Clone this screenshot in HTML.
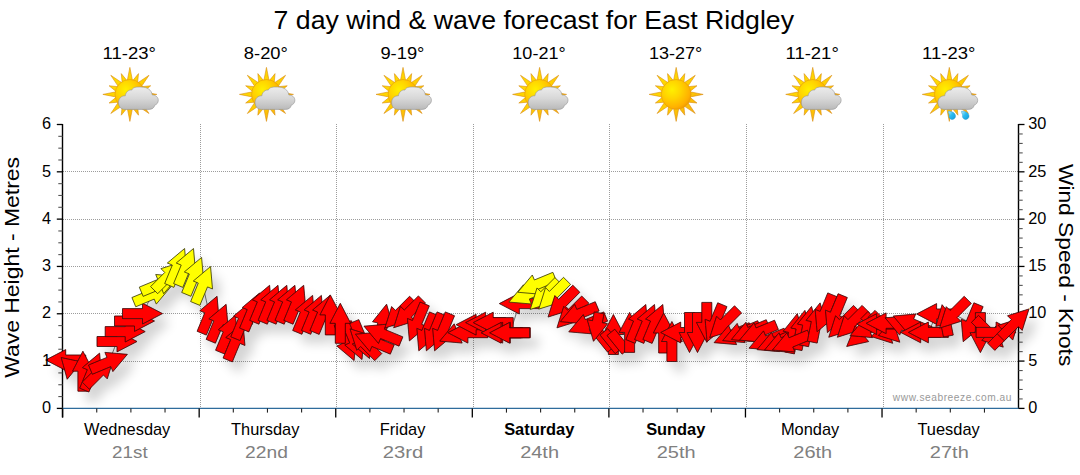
<!DOCTYPE html>
<html><head><meta charset="utf-8"><title>7 day wind &amp; wave forecast</title>
<style>
html,body{margin:0;padding:0;background:#fff;}
body{width:1080px;height:475px;overflow:hidden;position:relative;font-family:"Liberation Sans",sans-serif;}
svg{position:absolute;left:0;top:0;display:block;}
text{font-family:"Liberation Sans",sans-serif;}
</style></head><body>
<svg width="1080" height="475" viewBox="0 0 1080 475">
<defs>
<filter id="sh" x="-5%" y="-20%" width="110%" height="150%">
<feGaussianBlur in="SourceAlpha" stdDeviation="5.5"/>
<feOffset dx="8" dy="10" result="o"/>
<feComponentTransfer><feFuncA type="linear" slope="0.17"/></feComponentTransfer>
<feMerge><feMergeNode/><feMergeNode in="SourceGraphic"/></feMerge>
</filter>
<radialGradient id="sung" cx="0.36" cy="0.34" r="0.75">
<stop offset="0" stop-color="#fff000"/><stop offset="0.4" stop-color="#ffd400"/><stop offset="0.8" stop-color="#ffb000"/><stop offset="1" stop-color="#f09400"/>
</radialGradient>
<linearGradient id="rayg" x1="0" y1="0" x2="1" y2="1">
<stop offset="0" stop-color="#ffe400"/><stop offset="0.55" stop-color="#ffcc00"/><stop offset="1" stop-color="#f4a018"/>
</linearGradient>
<linearGradient id="cldg" x1="0" y1="0" x2="0" y2="1">
<stop offset="0" stop-color="#ececec"/><stop offset="0.5" stop-color="#d8d8d8"/><stop offset="1" stop-color="#bababa"/>
</linearGradient>
<linearGradient id="dropg" x1="0" y1="0" x2="1" y2="1">
<stop offset="0" stop-color="#b8ecff"/><stop offset="0.45" stop-color="#2cbcf0"/><stop offset="1" stop-color="#149ad8"/>
</linearGradient>
<g id="sun"><path d="M-2.59,-13.96 L0,-27 L2.59,-13.96 L2.95,-13.89 L8.61,-20.79 L7.73,-11.91 L8.04,-11.7 L19.09,-19.09 L11.7,-8.04 L11.91,-7.73 L20.79,-8.61 L13.89,-2.95 L13.96,-2.59 L27,0 L13.96,2.59 L13.89,2.95 L20.79,8.61 L11.91,7.73 L11.7,8.04 L19.09,19.09 L8.04,11.7 L7.73,11.91 L8.61,20.79 L2.95,13.89 L2.59,13.96 L0,27 L-2.59,13.96 L-2.95,13.89 L-8.61,20.79 L-7.73,11.91 L-8.04,11.7 L-19.09,19.09 L-11.7,8.04 L-11.91,7.73 L-20.79,8.61 L-13.89,2.95 L-13.96,2.59 L-27,0 L-13.96,-2.59 L-13.89,-2.95 L-20.79,-8.61 L-11.91,-7.73 L-11.7,-8.04 L-19.09,-19.09 L-8.04,-11.7 L-7.73,-11.91 L-8.61,-20.79 L-2.95,-13.89Z" fill="url(#rayg)" stroke="#d88c10" stroke-width="0.6" stroke-linejoin="miter"/><circle cx="0" cy="0" r="14.9" fill="url(#sung)" stroke="#e39a10" stroke-width="0.6"/></g>
<g id="cloud"><path d="M-4.8,15 C-9.5,15 -11.4,11.5 -11.4,8.2 C-11.4,4.2 -8.6,1.2 -4.6,1.4 C-4.2,-2.2 -1.2,-4.9 1.8,-4.3 C3.2,-7.6 7,-7.4 11,-7.4 C17.5,-7.4 21.6,-4.6 22.4,0.6 C26,0.6 28.4,3 28.4,5.8 C28.4,8.4 26.8,10.2 24.8,10.8 C24.4,13.6 22,15 19,15 Z" fill="url(#cldg)" stroke="#949494" stroke-width="0.6"/></g>
</defs>
<g stroke="#9c9c9c" stroke-width="1" stroke-dasharray="1,1" shape-rendering="crispEdges"><line x1="63" y1="361.5" x2="1018" y2="361.5"/><line x1="63" y1="313.5" x2="1018" y2="313.5"/><line x1="63" y1="266.5" x2="1018" y2="266.5"/><line x1="63" y1="219.5" x2="1018" y2="219.5"/><line x1="63" y1="171.5" x2="1018" y2="171.5"/><line x1="200.5" y1="124" x2="200.5" y2="408"/><line x1="336.5" y1="124" x2="336.5" y2="408"/><line x1="473.5" y1="124" x2="473.5" y2="408"/><line x1="609.5" y1="124" x2="609.5" y2="408"/><line x1="746.5" y1="124" x2="746.5" y2="408"/><line x1="883.5" y1="124" x2="883.5" y2="408"/></g>
<g><line x1="62.5" y1="124" x2="62.5" y2="417.5" stroke="#000" stroke-width="1.4"/><line x1="1018.5" y1="124" x2="1018.5" y2="409" stroke="#000" stroke-width="1.4"/><line x1="62" y1="408.4" x2="1019" y2="408.4" stroke="#2e6c9c" stroke-width="1.2"/><line x1="56.8" y1="408.4" x2="62.5" y2="408.4" stroke="#000" stroke-width="1.3"/><line x1="58.3" y1="396.57" x2="62.5" y2="396.57" stroke="#555" stroke-width="1.1"/><line x1="58.3" y1="384.74" x2="62.5" y2="384.74" stroke="#555" stroke-width="1.1"/><line x1="58.3" y1="372.91" x2="62.5" y2="372.91" stroke="#555" stroke-width="1.1"/><line x1="56.8" y1="361.08" x2="62.5" y2="361.08" stroke="#000" stroke-width="1.3"/><line x1="58.3" y1="349.25" x2="62.5" y2="349.25" stroke="#555" stroke-width="1.1"/><line x1="58.3" y1="337.42" x2="62.5" y2="337.42" stroke="#555" stroke-width="1.1"/><line x1="58.3" y1="325.6" x2="62.5" y2="325.6" stroke="#555" stroke-width="1.1"/><line x1="56.8" y1="313.77" x2="62.5" y2="313.77" stroke="#000" stroke-width="1.3"/><line x1="58.3" y1="301.94" x2="62.5" y2="301.94" stroke="#555" stroke-width="1.1"/><line x1="58.3" y1="290.11" x2="62.5" y2="290.11" stroke="#555" stroke-width="1.1"/><line x1="58.3" y1="278.28" x2="62.5" y2="278.28" stroke="#555" stroke-width="1.1"/><line x1="56.8" y1="266.45" x2="62.5" y2="266.45" stroke="#000" stroke-width="1.3"/><line x1="58.3" y1="254.62" x2="62.5" y2="254.62" stroke="#555" stroke-width="1.1"/><line x1="58.3" y1="242.79" x2="62.5" y2="242.79" stroke="#555" stroke-width="1.1"/><line x1="58.3" y1="230.96" x2="62.5" y2="230.96" stroke="#555" stroke-width="1.1"/><line x1="56.8" y1="219.13" x2="62.5" y2="219.13" stroke="#000" stroke-width="1.3"/><line x1="58.3" y1="207.3" x2="62.5" y2="207.3" stroke="#555" stroke-width="1.1"/><line x1="58.3" y1="195.47" x2="62.5" y2="195.47" stroke="#555" stroke-width="1.1"/><line x1="58.3" y1="183.65" x2="62.5" y2="183.65" stroke="#555" stroke-width="1.1"/><line x1="56.8" y1="171.82" x2="62.5" y2="171.82" stroke="#000" stroke-width="1.3"/><line x1="58.3" y1="159.99" x2="62.5" y2="159.99" stroke="#555" stroke-width="1.1"/><line x1="58.3" y1="148.16" x2="62.5" y2="148.16" stroke="#555" stroke-width="1.1"/><line x1="58.3" y1="136.33" x2="62.5" y2="136.33" stroke="#555" stroke-width="1.1"/><line x1="56.8" y1="124.5" x2="62.5" y2="124.5" stroke="#000" stroke-width="1.3"/><line x1="1018.5" y1="408.4" x2="1024.5" y2="408.4" stroke="#000" stroke-width="1.3"/><line x1="1018.5" y1="398.94" x2="1022.7" y2="398.94" stroke="#555" stroke-width="1.1"/><line x1="1018.5" y1="389.47" x2="1022.7" y2="389.47" stroke="#555" stroke-width="1.1"/><line x1="1018.5" y1="380.01" x2="1022.7" y2="380.01" stroke="#555" stroke-width="1.1"/><line x1="1018.5" y1="370.55" x2="1022.7" y2="370.55" stroke="#555" stroke-width="1.1"/><line x1="1018.5" y1="361.08" x2="1024.5" y2="361.08" stroke="#000" stroke-width="1.3"/><line x1="1018.5" y1="351.62" x2="1022.7" y2="351.62" stroke="#555" stroke-width="1.1"/><line x1="1018.5" y1="342.16" x2="1022.7" y2="342.16" stroke="#555" stroke-width="1.1"/><line x1="1018.5" y1="332.69" x2="1022.7" y2="332.69" stroke="#555" stroke-width="1.1"/><line x1="1018.5" y1="323.23" x2="1022.7" y2="323.23" stroke="#555" stroke-width="1.1"/><line x1="1018.5" y1="313.77" x2="1024.5" y2="313.77" stroke="#000" stroke-width="1.3"/><line x1="1018.5" y1="304.3" x2="1022.7" y2="304.3" stroke="#555" stroke-width="1.1"/><line x1="1018.5" y1="294.84" x2="1022.7" y2="294.84" stroke="#555" stroke-width="1.1"/><line x1="1018.5" y1="285.38" x2="1022.7" y2="285.38" stroke="#555" stroke-width="1.1"/><line x1="1018.5" y1="275.91" x2="1022.7" y2="275.91" stroke="#555" stroke-width="1.1"/><line x1="1018.5" y1="266.45" x2="1024.5" y2="266.45" stroke="#000" stroke-width="1.3"/><line x1="1018.5" y1="256.99" x2="1022.7" y2="256.99" stroke="#555" stroke-width="1.1"/><line x1="1018.5" y1="247.52" x2="1022.7" y2="247.52" stroke="#555" stroke-width="1.1"/><line x1="1018.5" y1="238.06" x2="1022.7" y2="238.06" stroke="#555" stroke-width="1.1"/><line x1="1018.5" y1="228.6" x2="1022.7" y2="228.6" stroke="#555" stroke-width="1.1"/><line x1="1018.5" y1="219.13" x2="1024.5" y2="219.13" stroke="#000" stroke-width="1.3"/><line x1="1018.5" y1="209.67" x2="1022.7" y2="209.67" stroke="#555" stroke-width="1.1"/><line x1="1018.5" y1="200.21" x2="1022.7" y2="200.21" stroke="#555" stroke-width="1.1"/><line x1="1018.5" y1="190.74" x2="1022.7" y2="190.74" stroke="#555" stroke-width="1.1"/><line x1="1018.5" y1="181.28" x2="1022.7" y2="181.28" stroke="#555" stroke-width="1.1"/><line x1="1018.5" y1="171.82" x2="1024.5" y2="171.82" stroke="#000" stroke-width="1.3"/><line x1="1018.5" y1="162.35" x2="1022.7" y2="162.35" stroke="#555" stroke-width="1.1"/><line x1="1018.5" y1="152.89" x2="1022.7" y2="152.89" stroke="#555" stroke-width="1.1"/><line x1="1018.5" y1="143.43" x2="1022.7" y2="143.43" stroke="#555" stroke-width="1.1"/><line x1="1018.5" y1="133.96" x2="1022.7" y2="133.96" stroke="#555" stroke-width="1.1"/><line x1="1018.5" y1="124.5" x2="1024.5" y2="124.5" stroke="#000" stroke-width="1.3"/><line x1="62.6" y1="408.4" x2="62.6" y2="417.5" stroke="#000" stroke-width="1.3"/><line x1="96.74" y1="408.4" x2="96.74" y2="412.6" stroke="#222" stroke-width="1.1"/><line x1="130.89" y1="408.4" x2="130.89" y2="412.6" stroke="#222" stroke-width="1.1"/><line x1="165.03" y1="408.4" x2="165.03" y2="412.6" stroke="#222" stroke-width="1.1"/><line x1="199.17" y1="408.4" x2="199.17" y2="417.5" stroke="#000" stroke-width="1.3"/><line x1="233.31" y1="408.4" x2="233.31" y2="412.6" stroke="#222" stroke-width="1.1"/><line x1="267.46" y1="408.4" x2="267.46" y2="412.6" stroke="#222" stroke-width="1.1"/><line x1="301.6" y1="408.4" x2="301.6" y2="412.6" stroke="#222" stroke-width="1.1"/><line x1="335.74" y1="408.4" x2="335.74" y2="417.5" stroke="#000" stroke-width="1.3"/><line x1="369.89" y1="408.4" x2="369.89" y2="412.6" stroke="#222" stroke-width="1.1"/><line x1="404.03" y1="408.4" x2="404.03" y2="412.6" stroke="#222" stroke-width="1.1"/><line x1="438.17" y1="408.4" x2="438.17" y2="412.6" stroke="#222" stroke-width="1.1"/><line x1="472.31" y1="408.4" x2="472.31" y2="417.5" stroke="#000" stroke-width="1.3"/><line x1="506.46" y1="408.4" x2="506.46" y2="412.6" stroke="#222" stroke-width="1.1"/><line x1="540.6" y1="408.4" x2="540.6" y2="412.6" stroke="#222" stroke-width="1.1"/><line x1="574.74" y1="408.4" x2="574.74" y2="412.6" stroke="#222" stroke-width="1.1"/><line x1="608.89" y1="408.4" x2="608.89" y2="417.5" stroke="#000" stroke-width="1.3"/><line x1="643.03" y1="408.4" x2="643.03" y2="412.6" stroke="#222" stroke-width="1.1"/><line x1="677.17" y1="408.4" x2="677.17" y2="412.6" stroke="#222" stroke-width="1.1"/><line x1="711.31" y1="408.4" x2="711.31" y2="412.6" stroke="#222" stroke-width="1.1"/><line x1="745.46" y1="408.4" x2="745.46" y2="417.5" stroke="#000" stroke-width="1.3"/><line x1="779.6" y1="408.4" x2="779.6" y2="412.6" stroke="#222" stroke-width="1.1"/><line x1="813.74" y1="408.4" x2="813.74" y2="412.6" stroke="#222" stroke-width="1.1"/><line x1="847.89" y1="408.4" x2="847.89" y2="412.6" stroke="#222" stroke-width="1.1"/><line x1="882.03" y1="408.4" x2="882.03" y2="417.5" stroke="#000" stroke-width="1.3"/><line x1="916.17" y1="408.4" x2="916.17" y2="412.6" stroke="#222" stroke-width="1.1"/><line x1="950.31" y1="408.4" x2="950.31" y2="412.6" stroke="#222" stroke-width="1.1"/><line x1="984.46" y1="408.4" x2="984.46" y2="412.6" stroke="#222" stroke-width="1.1"/></g>
<polyline points="65.7,360 71.35,359.7 82.9,371.2 91.95,371.6 99.9,371.5 108.9,362 117,341.5 125.2,331.6 134.5,321 142.5,313.6 152.3,294.5 159.7,284.1 168.3,276 176.95,267 185.85,267 193.95,275.9 202.9,285 209.4,314.7 218.45,322.8 227.85,333.7 235.35,341.5 243.05,320.2 251.85,311.5 261.95,303.8 270.35,303.8 279.15,303.8 287.25,303.8 296.05,303.8 304.95,313.9 313.75,313.9 322.2,314 330.3,314.9 340.3,323.3 346.45,342.02 354.35,341.02 361.85,340.02 364.14,342.94 373.78,341.85 382.48,333.85 399,313.9 407.8,313.6 417.05,322.42 426.45,332.32 434.05,332.32 442.25,332.32 458.18,333.45 467.9,332.7 476.1,324.7 485.6,322.6 493.2,322.6 501.1,332.8 502.7,332.7 509.6,332.8 510.3,332.7 519.3,303.6 527.4,294.4 536.3,284.6 544.35,295.3 552.9,295 562.2,302.9 571.1,313.7 578.7,314 587.25,324.2 597.4,321.7 613.4,334.5 629.6,332.4 638.15,323 646.85,323 655.15,323 663.7,333 671.9,341.5 680.7,332.5 689.5,332.5 697.5,332.5 706.8,322.4 714.7,323.2 723.9,323.5 732.6,335 741.15,333 749.7,332 758,332.5 767.5,340.5 775.5,342 783,342.4 790.9,342.4 793.4,333.3 801,330 807.6,326.1 816.2,322.5 824.75,313.3 835.05,314.1 842.9,323.1 851.5,323.1 862,333.6 868.5,328 876.6,324.1 886.1,323.3 903.6,325.5 911.7,323.65 920.7,332.4 928.4,332.4 936.6,314 946,324.3 953.6,314 970.85,323.2 980.4,332.6 989.1,333 996.1,332.4 1005.4,332.7 1014.85,323.1" fill="none" stroke="#777" stroke-width="1"/>
<g filter="url(#sh)" stroke-width="0.85" stroke-linejoin="miter"><polygon points="85.7,365 65.7,365 65.7,370.4 45.7,360 65.7,349.6 65.7,355 85.7,355" fill="#ff0000" stroke="#3c0a0a"/><polygon points="81.52,361.86 67.19,379.26 61.18,357.54" fill="#ff0000" stroke="#3c0a0a"/><polygon points="77.9,391.2 77.9,371.2 72.5,371.2 82.9,351.2 93.3,371.2 87.9,371.2 87.9,391.2" fill="#ff0000" stroke="#3c0a0a"/><polygon points="79.68,388.16 87.33,369.69 82.34,367.62 99.6,353.12 101.56,375.58 96.57,373.51 88.92,391.99" fill="#ff0000" stroke="#3c0a0a"/><polygon points="82.22,382.11 96.36,367.96 92.55,364.15 114.04,357.36 107.25,378.85 103.44,375.04 89.29,389.18" fill="#ff0000" stroke="#3c0a0a"/><polygon points="88.51,365.03 106.99,357.38 104.92,352.39 127.38,354.35 112.88,371.61 110.81,366.62 92.34,374.27" fill="#ff0000" stroke="#3c0a0a"/><polygon points="97,336.5 117,336.5 117,331.1 137,341.5 117,351.9 117,346.5 97,346.5" fill="#ff0000" stroke="#3c0a0a"/><polygon points="105.2,326.6 125.2,326.6 125.2,321.2 145.2,331.6 125.2,342 125.2,336.6 105.2,336.6" fill="#ff0000" stroke="#3c0a0a"/><polygon points="114.5,316 134.5,316 134.5,310.6 154.5,321 134.5,331.4 134.5,326 114.5,326" fill="#ff0000" stroke="#3c0a0a"/><polygon points="122.5,308.6 142.5,308.6 142.5,303.2 162.5,313.6 142.5,324 142.5,318.6 122.5,318.6" fill="#ff0000" stroke="#3c0a0a"/><polygon points="131.91,297.53 150.39,289.88 148.32,284.89 170.78,286.85 156.28,304.11 154.21,299.12 135.74,306.77" fill="#ffff00" stroke="#3c3c0a"/><polygon points="139.31,287.13 157.79,279.48 155.72,274.49 178.18,276.45 163.68,293.71 161.61,288.72 143.14,296.37" fill="#ffff00" stroke="#3c3c0a"/><polygon points="150.62,286.61 164.76,272.46 160.95,268.65 182.44,261.86 175.65,283.35 171.84,279.54 157.69,293.68" fill="#ffff00" stroke="#3c3c0a"/><polygon points="164.68,283.56 172.33,265.09 167.34,263.02 184.6,248.52 186.56,270.98 181.57,268.91 173.92,287.39" fill="#ffff00" stroke="#3c3c0a"/><polygon points="173.58,283.56 181.23,265.09 176.24,263.02 193.5,248.52 195.46,270.98 190.47,268.91 182.82,287.39" fill="#ffff00" stroke="#3c3c0a"/><polygon points="181.68,292.46 189.33,273.99 184.34,271.92 201.6,257.42 203.56,279.88 198.57,277.81 190.92,296.29" fill="#ffff00" stroke="#3c3c0a"/><polygon points="190.63,301.56 198.28,283.09 193.29,281.02 210.55,266.52 212.51,288.98 207.52,286.91 199.87,305.39" fill="#ffff00" stroke="#3c3c0a"/><polygon points="197.13,331.26 204.78,312.79 199.79,310.72 217.05,296.22 219.01,318.68 214.02,316.61 206.37,335.09" fill="#ff0000" stroke="#3c0a0a"/><polygon points="206.18,339.36 213.83,320.89 208.84,318.82 226.1,304.32 228.06,326.78 223.07,324.71 215.42,343.19" fill="#ff0000" stroke="#3c0a0a"/><polygon points="215.58,350.26 223.23,331.79 218.24,329.72 235.5,315.22 237.46,337.68 232.47,335.61 224.82,354.09" fill="#ff0000" stroke="#3c0a0a"/><polygon points="223.08,358.06 230.73,339.59 225.74,337.52 243,323.02 244.96,345.48 239.97,343.41 232.32,361.89" fill="#ff0000" stroke="#3c0a0a"/><polygon points="230.78,336.76 238.43,318.29 233.44,316.22 250.7,301.72 252.66,324.18 247.67,322.11 240.02,340.59" fill="#ff0000" stroke="#3c0a0a"/><polygon points="239.58,328.06 247.23,309.59 242.24,307.52 259.5,293.02 261.46,315.48 256.47,313.41 248.82,331.89" fill="#ff0000" stroke="#3c0a0a"/><polygon points="249.68,320.36 257.33,301.89 252.34,299.82 269.6,285.32 271.56,307.78 266.57,305.71 258.92,324.19" fill="#ff0000" stroke="#3c0a0a"/><polygon points="258.08,320.36 265.73,301.89 260.74,299.82 278,285.32 279.96,307.78 274.97,305.71 267.32,324.19" fill="#ff0000" stroke="#3c0a0a"/><polygon points="266.88,320.36 274.53,301.89 269.54,299.82 286.8,285.32 288.76,307.78 283.77,305.71 276.12,324.19" fill="#ff0000" stroke="#3c0a0a"/><polygon points="274.98,320.36 282.63,301.89 277.64,299.82 294.9,285.32 296.86,307.78 291.87,305.71 284.22,324.19" fill="#ff0000" stroke="#3c0a0a"/><polygon points="283.78,320.36 291.43,301.89 286.44,299.82 303.7,285.32 305.66,307.78 300.67,305.71 293.02,324.19" fill="#ff0000" stroke="#3c0a0a"/><polygon points="292.68,330.46 300.33,311.99 295.34,309.92 312.6,295.42 314.56,317.88 309.57,315.81 301.92,334.29" fill="#ff0000" stroke="#3c0a0a"/><polygon points="301.48,330.46 309.13,311.99 304.14,309.92 321.4,295.42 323.36,317.88 318.37,315.81 310.72,334.29" fill="#ff0000" stroke="#3c0a0a"/><polygon points="309.93,330.56 317.58,312.09 312.59,310.02 329.85,295.52 331.81,317.98 326.82,315.91 319.17,334.39" fill="#ff0000" stroke="#3c0a0a"/><polygon points="325.3,334.9 325.3,314.9 319.9,314.9 330.3,294.9 340.7,314.9 335.3,314.9 335.3,334.9" fill="#ff0000" stroke="#3c0a0a"/><polygon points="343.41,321.63 351.07,340.11 356.05,338.04 354.1,360.5 336.84,346 341.83,343.94 334.17,325.46" fill="#ff0000" stroke="#3c0a0a"/><polygon points="351.31,320.63 358.97,339.11 363.95,337.04 362,359.5 344.74,345 349.73,342.94 342.07,324.46" fill="#ff0000" stroke="#3c0a0a"/><polygon points="358.81,319.63 366.47,338.11 371.45,336.04 369.5,358.5 352.24,344 357.23,341.94 349.57,323.46" fill="#ff0000" stroke="#3c0a0a"/><polygon points="335.3,343.3 335.3,323.3 329.9,323.3 340.3,303.3 350.7,323.3 345.3,323.3 345.3,343.3" fill="#ff0000" stroke="#3c0a0a"/><polygon points="373.89,342.46 377.79,322.84 372.5,321.79 386.6,304.2 392.9,325.84 387.6,324.79 383.7,344.41" fill="#ff0000" stroke="#3c0a0a"/><polygon points="374.75,360.62 360.61,346.48 356.79,350.3 350,328.8 371.5,335.59 367.68,339.41 381.82,353.55" fill="#ff0000" stroke="#3c0a0a"/><polygon points="390.34,354.13 371.86,346.47 369.8,351.46 355.3,334.2 377.76,332.25 375.69,337.23 394.17,344.89" fill="#ff0000" stroke="#3c0a0a"/><polygon points="399.04,346.13 380.56,338.47 378.5,343.46 364,326.2 386.46,324.25 384.39,329.23 402.87,336.89" fill="#ff0000" stroke="#3c0a0a"/><polygon points="416.68,303.29 402.54,317.44 406.35,321.25 384.86,328.04 391.65,306.55 395.46,310.36 409.61,296.22" fill="#ff0000" stroke="#3c0a0a"/><polygon points="425.48,302.99 411.34,317.14 415.15,320.95 393.66,327.74 400.45,306.25 404.26,310.06 418.41,295.92" fill="#ff0000" stroke="#3c0a0a"/><polygon points="429.33,305.86 421.67,324.34 426.66,326.4 409.4,340.9 407.45,318.44 412.43,320.51 420.09,302.03" fill="#ff0000" stroke="#3c0a0a"/><polygon points="438.73,315.76 431.07,334.24 436.06,336.3 418.8,350.8 416.85,328.34 421.83,330.41 429.49,311.93" fill="#ff0000" stroke="#3c0a0a"/><polygon points="446.33,315.76 438.67,334.24 443.66,336.3 426.4,350.8 424.45,328.34 429.43,330.41 437.09,311.93" fill="#ff0000" stroke="#3c0a0a"/><polygon points="454.53,315.76 446.87,334.24 451.86,336.3 434.6,350.8 432.65,328.34 437.63,330.41 445.29,311.93" fill="#ff0000" stroke="#3c0a0a"/><polygon points="478.57,330.41 460.09,338.07 462.16,343.05 439.7,341.1 454.2,323.84 456.26,328.83 474.74,321.17" fill="#ff0000" stroke="#3c0a0a"/><polygon points="487.9,337.7 467.9,337.7 467.9,343.1 447.9,332.7 467.9,322.3 467.9,327.7 487.9,327.7" fill="#ff0000" stroke="#3c0a0a"/><polygon points="496.1,329.7 476.1,329.7 476.1,335.1 456.1,324.7 476.1,314.3 476.1,319.7 496.1,319.7" fill="#ff0000" stroke="#3c0a0a"/><polygon points="505.6,327.6 485.6,327.6 485.6,333 465.6,322.6 485.6,312.2 485.6,317.6 505.6,317.6" fill="#ff0000" stroke="#3c0a0a"/><polygon points="513.2,327.6 493.2,327.6 493.2,333 473.2,322.6 493.2,312.2 493.2,317.6 513.2,317.6" fill="#ff0000" stroke="#3c0a0a"/><polygon points="522.7,337.7 502.7,337.7 502.7,343.1 482.7,332.7 502.7,322.3 502.7,327.7 522.7,327.7" fill="#ff0000" stroke="#3c0a0a"/><polygon points="530.3,337.7 510.3,337.7 510.3,343.1 490.3,332.7 510.3,322.3 510.3,327.7 530.3,327.7" fill="#ff0000" stroke="#3c0a0a"/><polygon points="521.1,337.8 501.1,337.8 501.1,343.2 481.1,332.8 501.1,322.4 501.1,327.8 521.1,327.8" fill="#ff0000" stroke="#3c0a0a"/><polygon points="529.6,337.8 509.6,337.8 509.6,343.2 489.6,332.8 509.6,322.4 509.6,327.8 529.6,327.8" fill="#ff0000" stroke="#3c0a0a"/><polygon points="539.3,308.6 519.3,308.6 519.3,314 499.3,303.6 519.3,293.2 519.3,298.6 539.3,298.6" fill="#ff0000" stroke="#3c0a0a"/><polygon points="547.79,291.37 529.31,299.02 531.38,304.01 508.92,302.05 523.42,284.79 525.49,289.78 543.96,282.13" fill="#ffff00" stroke="#3c3c0a"/><polygon points="556.69,281.57 538.21,289.22 540.28,294.21 517.82,292.25 532.32,274.99 534.39,279.98 552.86,272.33" fill="#ffff00" stroke="#3c3c0a"/><polygon points="562.03,284.69 547.89,298.84 551.7,302.65 530.21,309.44 537,287.95 540.81,291.76 554.96,277.62" fill="#ffff00" stroke="#3c3c0a"/><polygon points="570.58,284.39 556.44,298.54 560.25,302.35 538.76,309.14 545.55,287.65 549.36,291.46 563.51,277.32" fill="#ffff00" stroke="#3c3c0a"/><polygon points="579.88,292.29 565.74,306.44 569.55,310.25 548.06,317.04 554.85,295.55 558.66,299.36 572.81,285.22" fill="#ff0000" stroke="#3c0a0a"/><polygon points="588.78,303.09 574.64,317.24 578.45,321.05 556.96,327.84 563.75,306.35 567.56,310.16 581.71,296.02" fill="#ff0000" stroke="#3c0a0a"/><polygon points="599.09,310.97 580.61,318.62 582.68,323.61 560.22,321.65 574.72,304.39 576.79,309.38 595.26,301.73" fill="#ff0000" stroke="#3c0a0a"/><polygon points="607.64,321.17 589.16,328.82 591.23,333.81 568.77,331.85 583.27,314.59 585.34,319.58 603.81,311.93" fill="#ff0000" stroke="#3c0a0a"/><polygon points="608.4,354.5 608.4,334.5 603,334.5 613.4,314.5 623.8,334.5 618.4,334.5 618.4,354.5" fill="#ff0000" stroke="#3c0a0a"/><polygon points="607.61,352.15 592.51,333.5 600.28,327.2 615.39,345.85" fill="#ff0000" stroke="#3c0a0a"/><polygon points="615.11,353.65 600.01,335 607.78,328.7 622.89,347.35" fill="#ff0000" stroke="#3c0a0a"/><polygon points="622.11,354.15 607.01,335.5 614.78,329.2 629.89,347.85" fill="#ff0000" stroke="#3c0a0a"/><polygon points="604.06,313.85 602.3,322.68 607.6,323.73 593.5,341.32 587.2,319.67 592.5,320.72 594.25,311.9" fill="#ff0000" stroke="#3c0a0a"/><polygon points="624.6,352.4 624.6,332.4 619.2,332.4 629.6,312.4 640,332.4 634.6,332.4 634.6,352.4" fill="#ff0000" stroke="#3c0a0a"/><polygon points="625.88,339.56 633.53,321.09 628.54,319.02 645.8,304.52 647.76,326.98 642.77,324.91 635.12,343.39" fill="#ff0000" stroke="#3c0a0a"/><polygon points="634.58,339.56 642.23,321.09 637.24,319.02 654.5,304.52 656.46,326.98 651.47,324.91 643.82,343.39" fill="#ff0000" stroke="#3c0a0a"/><polygon points="642.88,339.56 650.53,321.09 645.54,319.02 662.8,304.52 664.76,326.98 659.77,324.91 652.12,343.39" fill="#ff0000" stroke="#3c0a0a"/><polygon points="658.7,353 658.7,333 653.3,333 663.7,313 674.1,333 668.7,333 668.7,353" fill="#ff0000" stroke="#3c0a0a"/><polygon points="666.9,361.5 666.9,341.5 661.5,341.5 671.9,321.5 682.3,341.5 676.9,341.5 676.9,361.5" fill="#ff0000" stroke="#3c0a0a"/><polygon points="700.7,337.5 680.7,337.5 680.7,342.9 660.7,332.5 680.7,322.1 680.7,327.5 700.7,327.5" fill="#ff0000" stroke="#3c0a0a"/><polygon points="694.5,312.5 694.5,332.5 699.9,332.5 689.5,352.5 679.1,332.5 684.5,332.5 684.5,312.5" fill="#ff0000" stroke="#3c0a0a"/><polygon points="702.5,312.5 702.5,332.5 707.9,332.5 697.5,352.5 687.1,332.5 692.5,332.5 692.5,312.5" fill="#ff0000" stroke="#3c0a0a"/><polygon points="711.8,302.4 711.8,322.4 717.2,322.4 706.8,342.4 696.4,322.4 701.8,322.4 701.8,302.4" fill="#ff0000" stroke="#3c0a0a"/><polygon points="726.97,306.64 719.32,325.11 724.31,327.18 707.05,341.68 705.09,319.22 710.08,321.29 717.73,302.81" fill="#ff0000" stroke="#3c0a0a"/><polygon points="741.58,312.89 727.44,327.04 731.25,330.85 709.76,337.64 716.55,316.15 720.36,319.96 734.51,305.82" fill="#ff0000" stroke="#3c0a0a"/><polygon points="752.99,331.97 734.51,339.62 736.58,344.61 714.12,342.65 728.62,325.39 730.69,330.38 749.16,322.73" fill="#ff0000" stroke="#3c0a0a"/><polygon points="761.54,329.97 743.06,337.62 745.13,342.61 722.67,340.65 737.17,323.39 739.24,328.38 757.71,320.73" fill="#ff0000" stroke="#3c0a0a"/><polygon points="770.09,328.97 751.61,336.62 753.68,341.61 731.22,339.65 745.72,322.39 747.79,327.38 766.26,319.73" fill="#ff0000" stroke="#3c0a0a"/><polygon points="778.39,329.47 759.91,337.12 761.98,342.11 739.52,340.15 754.02,322.89 756.09,327.88 774.56,320.23" fill="#ff0000" stroke="#3c0a0a"/><polygon points="787.89,337.47 769.41,345.12 771.48,350.11 749.02,348.15 763.52,330.89 765.59,335.88 784.06,328.23" fill="#ff0000" stroke="#3c0a0a"/><polygon points="795.89,338.97 777.41,346.62 779.48,351.61 757.02,349.65 771.52,332.39 773.59,337.38 792.06,329.73" fill="#ff0000" stroke="#3c0a0a"/><polygon points="803.39,339.37 784.91,347.02 786.98,352.01 764.52,350.05 779.02,332.79 781.09,337.78 799.56,330.13" fill="#ff0000" stroke="#3c0a0a"/><polygon points="784.59,351.94 788.5,332.32 783.2,331.27 797.3,313.68 803.6,335.33 798.3,334.28 794.4,353.89" fill="#ff0000" stroke="#3c0a0a"/><polygon points="792.19,348.64 796.1,329.02 790.8,327.97 804.9,310.38 811.2,332.03 805.9,330.98 802,350.59" fill="#ff0000" stroke="#3c0a0a"/><polygon points="798.79,344.74 802.7,325.12 797.4,324.07 811.5,306.48 817.8,328.13 812.5,327.08 808.6,346.69" fill="#ff0000" stroke="#3c0a0a"/><polygon points="811.29,339.37 792.81,347.02 794.88,352.01 772.42,350.05 786.92,332.79 788.99,337.78 807.46,330.13" fill="#ff0000" stroke="#3c0a0a"/><polygon points="807.39,341.14 811.3,321.52 806,320.47 820.1,302.88 826.4,324.53 821.1,323.48 817.2,343.09" fill="#ff0000" stroke="#3c0a0a"/><polygon points="837.02,296.74 829.37,315.21 834.36,317.28 817.1,331.78 815.14,309.32 820.13,311.39 827.78,292.91" fill="#ff0000" stroke="#3c0a0a"/><polygon points="847.32,297.54 839.67,316.01 844.66,318.08 827.4,332.58 825.44,310.12 830.43,312.19 838.08,293.71" fill="#ff0000" stroke="#3c0a0a"/><polygon points="860.58,312.49 846.44,326.64 850.25,330.45 828.76,337.24 835.55,315.75 839.36,319.56 853.51,305.42" fill="#ff0000" stroke="#3c0a0a"/><polygon points="869.18,312.49 855.04,326.64 858.85,330.45 837.36,337.24 844.15,315.75 847.96,319.56 862.11,305.42" fill="#ff0000" stroke="#3c0a0a"/><polygon points="880.53,324.57 865.21,337.43 868.68,341.57 846.68,346.46 855.32,325.63 858.79,329.77 874.11,316.91" fill="#ff0000" stroke="#3c0a0a"/><polygon points="888.89,324.97 870.41,332.62 872.48,337.61 850.02,335.65 864.52,318.39 866.59,323.38 885.06,315.73" fill="#ff0000" stroke="#3c0a0a"/><polygon points="867.95,311.48 882.09,325.62 885.91,321.8 892.7,343.3 871.2,336.51 875.02,332.69 860.88,318.55" fill="#ff0000" stroke="#3c0a0a"/><polygon points="875.05,310.38 889.19,324.52 893.01,320.7 899.8,342.2 878.3,335.41 882.12,331.59 867.98,317.45" fill="#ff0000" stroke="#3c0a0a"/><polygon points="896.6,329.1 876.6,329.1 876.6,334.5 856.6,324.1 876.6,313.7 876.6,319.1 896.6,319.1" fill="#ff0000" stroke="#3c0a0a"/><polygon points="906.1,328.3 886.1,328.3 886.1,333.7 866.1,323.3 886.1,312.9 886.1,318.3 906.1,318.3" fill="#ff0000" stroke="#3c0a0a"/><polygon points="920.16,337.77 901.69,330.12 899.62,335.11 885.12,317.85 907.58,315.89 905.51,320.88 923.99,328.53" fill="#ff0000" stroke="#3c0a0a"/><polygon points="928.26,335.92 909.79,328.27 907.72,333.26 893.22,316 915.68,314.04 913.61,319.03 932.09,326.68" fill="#ff0000" stroke="#3c0a0a"/><polygon points="940.7,337.4 920.7,337.4 920.7,342.8 900.7,332.4 920.7,322 920.7,327.4 940.7,327.4" fill="#ff0000" stroke="#3c0a0a"/><polygon points="948.4,337.4 928.4,337.4 928.4,342.8 908.4,332.4 928.4,322 928.4,327.4 948.4,327.4" fill="#ff0000" stroke="#3c0a0a"/><polygon points="956.6,319 936.6,319 936.6,324.4 916.6,314 936.6,303.6 936.6,309 956.6,309" fill="#ff0000" stroke="#3c0a0a"/><polygon points="943.44,337.04 941.1,325.28 935.8,326.33 942.1,304.68 956.2,322.27 950.9,323.32 953.25,335.09" fill="#ff0000" stroke="#3c0a0a"/><polygon points="971.28,303.39 957.14,317.54 960.95,321.35 939.46,328.14 946.25,306.65 950.06,310.46 964.21,296.32" fill="#ff0000" stroke="#3c0a0a"/><polygon points="983.12,306.64 975.47,325.11 980.46,327.18 963.2,341.68 961.24,319.22 966.23,321.29 973.88,302.81" fill="#ff0000" stroke="#3c0a0a"/><polygon points="985.4,312.6 985.4,332.6 990.8,332.6 980.4,352.6 970,332.6 975.4,332.6 975.4,312.6" fill="#ff0000" stroke="#3c0a0a"/><polygon points="978.49,315.32 992.64,329.46 996.45,325.65 1003.24,347.14 981.75,340.35 985.56,336.54 971.42,322.39" fill="#ff0000" stroke="#3c0a0a"/><polygon points="976.1,327.4 996.1,327.4 996.1,322 1016.1,332.4 996.1,342.8 996.1,337.4 976.1,337.4" fill="#ff0000" stroke="#3c0a0a"/><polygon points="987.72,343.31 1001.86,329.16 998.05,325.35 1019.54,318.56 1012.75,340.05 1008.94,336.24 994.79,350.38" fill="#ff0000" stroke="#3c0a0a"/><polygon points="997.17,333.71 1011.31,319.56 1007.5,315.75 1028.99,308.96 1022.2,330.45 1018.39,326.64 1004.24,340.78" fill="#ff0000" stroke="#3c0a0a"/></g>
<g fill="#000"><text x="533.8" y="28.5" font-size="25" text-anchor="middle" fill="#000" textLength="520.5" lengthAdjust="spacingAndGlyphs">7 day wind &amp; wave forecast for East Ridgley</text><text x="129.29" y="58.7" font-size="16" text-anchor="middle" textLength="53.3" lengthAdjust="spacingAndGlyphs">11-23°</text><text x="127.19" y="435" font-size="16.4" text-anchor="middle">Wednesday</text><text x="129.89" y="458.3" font-size="17" text-anchor="middle" fill="#808080" textLength="35.5" lengthAdjust="spacingAndGlyphs">21st</text><text x="265.86" y="58.7" font-size="16" text-anchor="middle" textLength="44" lengthAdjust="spacingAndGlyphs">8-20°</text><text x="265.26" y="435" font-size="16.4" text-anchor="middle">Thursday</text><text x="266.46" y="458.3" font-size="17" text-anchor="middle" fill="#808080" textLength="42.8" lengthAdjust="spacingAndGlyphs">22nd</text><text x="402.43" y="58.7" font-size="16" text-anchor="middle" textLength="44" lengthAdjust="spacingAndGlyphs">9-19°</text><text x="402.63" y="435" font-size="16.4" text-anchor="middle">Friday</text><text x="403.03" y="458.3" font-size="17" text-anchor="middle" fill="#808080" textLength="40.5" lengthAdjust="spacingAndGlyphs">23rd</text><text x="539" y="58.7" font-size="16" text-anchor="middle" textLength="53.3" lengthAdjust="spacingAndGlyphs">10-21°</text><text x="539.2" y="435" font-size="16.4" text-anchor="middle" font-weight="bold" font-size="16">Saturday</text><text x="539.6" y="458.3" font-size="17" text-anchor="middle" fill="#808080" textLength="38.9" lengthAdjust="spacingAndGlyphs">24th</text><text x="675.57" y="58.7" font-size="16" text-anchor="middle" textLength="53.3" lengthAdjust="spacingAndGlyphs">13-27°</text><text x="675.77" y="435" font-size="16.4" text-anchor="middle" font-weight="bold" font-size="16">Sunday</text><text x="676.17" y="458.3" font-size="17" text-anchor="middle" fill="#808080" textLength="38.9" lengthAdjust="spacingAndGlyphs">25th</text><text x="812.14" y="58.7" font-size="16" text-anchor="middle" textLength="53.3" lengthAdjust="spacingAndGlyphs">11-21°</text><text x="810.04" y="435" font-size="16.4" text-anchor="middle">Monday</text><text x="812.74" y="458.3" font-size="17" text-anchor="middle" fill="#808080" textLength="38.9" lengthAdjust="spacingAndGlyphs">26th</text><text x="948.71" y="58.7" font-size="16" text-anchor="middle" textLength="53.3" lengthAdjust="spacingAndGlyphs">11-23°</text><text x="948.61" y="435" font-size="16.4" text-anchor="middle">Tuesday</text><text x="949.31" y="458.3" font-size="17" text-anchor="middle" fill="#808080" textLength="38.9" lengthAdjust="spacingAndGlyphs">27th</text><text x="51" y="413.1" font-size="16.3" text-anchor="end">0</text><text x="51" y="365.78" font-size="16.3" text-anchor="end">1</text><text x="51" y="318.47" font-size="16.3" text-anchor="end">2</text><text x="51" y="271.15" font-size="16.3" text-anchor="end">3</text><text x="51" y="223.83" font-size="16.3" text-anchor="end">4</text><text x="51" y="176.52" font-size="16.3" text-anchor="end">5</text><text x="51" y="129.2" font-size="16.3" text-anchor="end">6</text><text x="1028.2" y="413.1" font-size="16.3" text-anchor="start">0</text><text x="1028.2" y="365.78" font-size="16.3" text-anchor="start">5</text><text x="1028.2" y="318.47" font-size="16.3" text-anchor="start">10</text><text x="1028.2" y="271.15" font-size="16.3" text-anchor="start">15</text><text x="1028.2" y="223.83" font-size="16.3" text-anchor="start">20</text><text x="1028.2" y="176.52" font-size="16.3" text-anchor="start">25</text><text x="1028.2" y="129.2" font-size="16.3" text-anchor="start">30</text><text transform="translate(19.2,267.4) rotate(-90)" font-size="20.6" text-anchor="middle" textLength="220.8" lengthAdjust="spacingAndGlyphs">Wave Height - Metres</text><text transform="translate(1058.9,265.1) rotate(90)" font-size="21" text-anchor="middle" textLength="202.4" lengthAdjust="spacingAndGlyphs">Wind Speed - Knots</text><text x="1012" y="400.5" font-size="10.2" text-anchor="end" fill="#999" letter-spacing="0.55">www.seabreeze.com.au</text></g>
<g transform="translate(129.89,94.4)"><use href="#sun"/><use href="#cloud"/></g><g transform="translate(266.46,94.4)"><use href="#sun"/><use href="#cloud"/></g><g transform="translate(403.03,94.4)"><use href="#sun"/><use href="#cloud"/></g><g transform="translate(539.6,94.4)"><use href="#sun"/><use href="#cloud"/></g><g transform="translate(676.17,94.4)"><use href="#sun"/></g><g transform="translate(812.74,94.4)"><use href="#sun"/><use href="#cloud"/></g><g transform="translate(949.31,94.4)"><use href="#sun"/><use href="#cloud"/><path d="M-0.9,16.7 C4.5,17.1 6.4,19.9 6.2,22.1 A3.3,3.3 0 1 1 -0.2,20.7 C-0.4,19.1 -1.3,18.9 -0.9,16.7Z" fill="url(#dropg)" stroke="#1a8cc4" stroke-width="0.4"/><path d="M12.3,16.7 C18.0,17.1 19.9,19.9 19.7,22.1 A3.3,3.3 0 1 1 13.3,20.7 C13.1,19.1 11.9,18.9 12.3,16.7Z" fill="url(#dropg)" stroke="#1a8cc4" stroke-width="0.4"/></g>
</svg></body></html>
